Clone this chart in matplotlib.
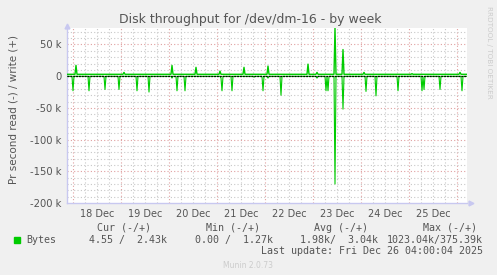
import numpy as np
import pandas as pd
import matplotlib
matplotlib.use("Agg")
import matplotlib.pyplot as plt
import matplotlib.dates as mdates

# time window of the weekly graph (30 min steps, 1 px each)
t_start = pd.Timestamp("2025-12-17 21:00")
t_end = pd.Timestamp("2025-12-26 05:00")

write_base = 3.0   # k
read_base = 0.2    # k

write_times = ["2025-12-18 01:30", "2025-12-19 01:30", "2025-12-20 01:30", "2025-12-20 13:30",
               "2025-12-21 01:30", "2025-12-21 13:30", "2025-12-22 01:30", "2025-12-22 21:30",
               "2025-12-23 02:00", "2025-12-23 11:00", "2025-12-23 15:00", "2025-12-24 01:30",
               "2025-12-25 01:30", "2025-12-26 01:30"]
write_vals = [17, 6, 17, 14, 8, 14, 16, 19, 6, 76, 42, 6, 4, 6]

read_times = ["2025-12-18 00:00", "2025-12-18 08:00", "2025-12-18 16:00", "2025-12-18 23:00",
              "2025-12-19 08:00", "2025-12-19 14:00", "2025-12-20 01:30", "2025-12-20 04:00",
              "2025-12-20 08:00", "2025-12-21 02:00", "2025-12-21 02:30", "2025-12-21 07:30",
              "2025-12-21 18:30", "2025-12-21 23:00", "2025-12-22 01:30", "2025-12-22 08:00",
              "2025-12-23 02:00", "2025-12-23 06:30", "2025-12-23 07:30", "2025-12-23 11:00",
              "2025-12-23 15:00", "2025-12-24 02:30", "2025-12-24 07:30", "2025-12-24 18:30",
              "2025-12-25 06:30", "2025-12-25 07:30", "2025-12-25 15:30", "2025-12-26 02:30"]
read_vals = [23, 23, 21, 21, 23, 25, 3, 23, 23, 3, 23, 23, 1.5, 23, 3, 30,
             3, 23, 23, 170, 52, 24, 31, 23, 23, 21, 21, 23]

day_labels = ["18 Dec", "19 Dec", "20 Dec", "21 Dec", "22 Dec", "23 Dec", "24 Dec", "25 Dec"]
yticks_k = [50, 0, -50, -100, -150, -200]
ytick_labels = ["50 k", "0", "-50 k", "-100 k", "-150 k", "-200 k"]

legend_cols = ["Cur (-/+)", "Min (-/+)", "Avg (-/+)", "Max (-/+)"]
legend_vals = ["4.55 /  2.43k", "0.00 /  1.27k", "1.98k/  3.04k", "1023.04k/375.39k"]

# build series
times = pd.date_range(t_start, t_end, freq="30min")
write = pd.Series(write_base, index=times)
read = pd.Series(read_base, index=times)
for t, v in zip(write_times, write_vals):
    write[pd.Timestamp(t)] = v
for t, v in zip(read_times, read_vals):
    read[pd.Timestamp(t)] = v

W, H = 497, 275
fig = plt.figure(figsize=(W / 100, H / 100), dpi=100)
fig.patch.set_facecolor("#F0F0F0")
ax = fig.add_axes([67 / W, 1 - 203 / H, 400 / W, 175 / H])
ax.set_facecolor("white")

green = "#00CC00"
ax.plot(times, -read.values * 1000, color=green, lw=0.8, zorder=3)
ax.plot(times, write.values * 1000, color=green, lw=1.0, zorder=4)
ax.axhline(0, color="black", lw=0.9, dashes=(1.5, 0.8), zorder=5)

ax.set_xlim(t_start, t_end)
ax.set_ylim(-200000, 76000)

ax.set_yticks([k * 1000 for k in yticks_k])
ax.set_yticklabels(ytick_labels)
noons = [pd.Timestamp("2025-12-18 12:00") + pd.Timedelta(days=i) for i in range(len(day_labels))]
ax.set_xticks(noons)
ax.set_xticklabels(day_labels)
ax.grid(False)
ax.tick_params(which="both", length=0, colors="#555555", labelsize=7, pad=4)
for lab in ax.get_yticklabels():
    lab.set_fontsize(7.2)

# grid: minor grey, major red, dotted
for t in pd.date_range("2025-12-17 00:00", t_end, freq="6h"):
    if t <= t_start:
        continue
    c = "#E0A0A0" if t.hour == 0 else "#C8C8C8"
    ax.axvline(t, color=c, lw=0.8, dashes=(1, 2), zorder=1)
for y in np.arange(-190000, 76000, 10000):
    c = "#E0A0A0" if y % 50000 == 0 else "#C8C8C8"
    ax.axhline(y, color=c, lw=0.8, dashes=(1, 2), zorder=1)

for s in ["top", "right"]:
    ax.spines[s].set_visible(False)
for s in ["left", "bottom"]:
    ax.spines[s].set_color("#C8C8F0")
    ax.spines[s].set_linewidth(1.0)
ax.plot(0, 1.012, "^", color="#C8C8F0", ms=3.5, transform=ax.transAxes, clip_on=False)
ax.plot(1.01, 0, ">", color="#C8C8F0", ms=3.5, transform=ax.transAxes, clip_on=False)

fig.text(250 / W, 1 - 19 / H, "Disk throughput for /dev/dm-16 - by week",
         ha="center", va="center", fontsize=9, color="#555555")
fig.text(14 / W, 1 - 110 / H, "Pr second read (-) / write (+)", rotation=90,
         ha="center", va="center", fontsize=7.5, color="#555555")
fig.text(489 / W, 1 - 52 / H, "RRDTOOL / TOBI OETIKER", rotation=270,
         ha="center", va="center", fontsize=5.2, color="#CCCCCC")

mono = "DejaVu Sans Mono"
head_x = [151, 260, 368, 477]
val_x = [167, 273, 378, 483]
for hx, txt in zip(head_x, legend_cols):
    fig.text(hx / W, 1 - 228 / H, txt, ha="right", va="center",
             family=mono, fontsize=7.2, color="#555555")
for vx, txt in zip(val_x, legend_vals):
    fig.text(vx / W, 1 - 240 / H, txt, ha="right", va="center",
             family=mono, fontsize=7.2, color="#555555")
fig.patches.append(plt.Rectangle((14 / W, 1 - 243 / H), 6 / W, 6 / H,
                                 transform=fig.transFigure, color=green))
fig.text(26 / W, 1 - 240 / H, "Bytes", ha="left", va="center",
         family=mono, fontsize=7.2, color="#555555")
fig.text(483 / W, 1 - 251 / H, "Last update: Fri Dec 26 04:00:04 2025", ha="right",
         va="center", family=mono, fontsize=7.2, color="#555555")
fig.text(248 / W, 1 - 266 / H, "Munin 2.0.73", ha="center", va="center",
         fontsize=5.5, color="#CCCCCC")

fig.savefig("out.png", dpi=100, facecolor=fig.get_facecolor())
